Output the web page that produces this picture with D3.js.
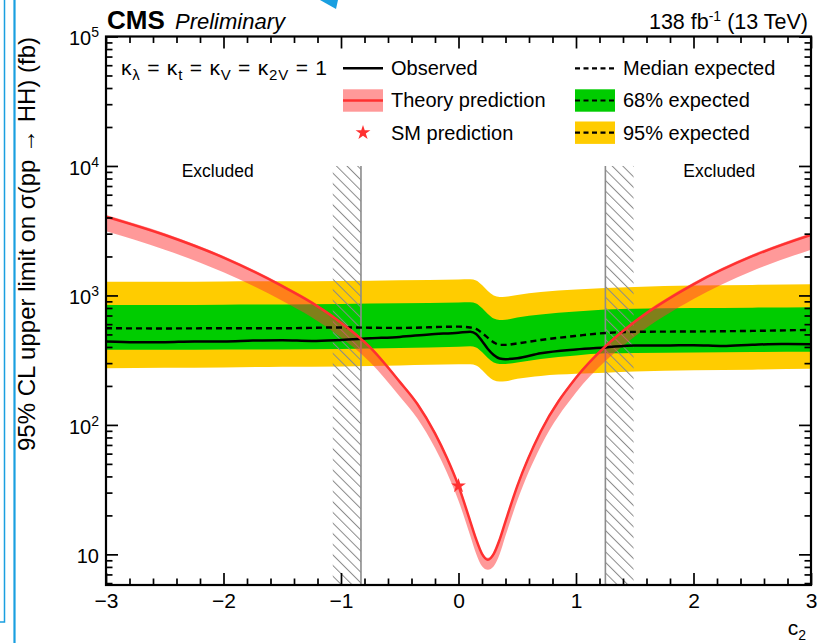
<!DOCTYPE html>
<html>
<head>
<meta charset="utf-8">
<script src="https://cdn.jsdelivr.net/npm/d3@7"></script>
<style>
  html, body { margin: 0; padding: 0; background: #fff; }
  svg { display: block; font-family: "Liberation Sans", Arial, Helvetica, sans-serif; }
</style>
</head>
<body>
<svg id="chart" width="823" height="643"></svg>
<script>
// ---- expected limits (fb) vs c2 ----
const expC2      = [-3, -2.5, -2, -1.5, -1, -0.5, 0, 0.1, 0.15, 0.2, 0.25, 0.3, 0.35, 0.4, 0.5, 0.7, 1.0, 1.25, 1.5, 2, 2.5, 3];
const exp95Up    = [1278, 1278, 1283, 1288, 1294, 1311, 1329, 1334, 1306, 1205, 1083, 1000, 974, 977, 1009, 1064, 1112, 1143, 1163, 1191, 1205, 1220];
const exp68Up    = [845, 845, 848, 852, 860, 871, 883, 886, 868, 801, 720, 664, 647, 649, 676, 713, 752, 780, 790, 798, 805, 811];
const expMedian  = [558, 556, 558, 558, 566, 561, 574, 566, 551, 513, 470, 434, 415, 415, 426, 453, 487, 513, 523, 527, 532, 542];
const exp68Down  = [380, 380, 382, 383, 386, 393, 402, 405, 397, 366, 329, 304, 296, 296, 304, 323, 344, 357, 360, 363, 366, 368];
const exp95Down  = [274, 276, 278, 281, 283, 288, 294, 294, 288, 266, 239, 221, 216, 217, 227, 239, 248, 253, 258, 264, 267, 271];

// ---- observed limit (fb) vs c2 ----
const obsC2      = [-3, -2.75, -2.5, -2.25, -2, -1.75, -1.5, -1.25, -1, -0.75, -0.5, -0.25, 0, 0.1, 0.15, 0.2, 0.25, 0.3, 0.35, 0.4, 0.5, 0.7, 1.0, 1.25, 1.5, 1.75, 2, 2.25, 2.5, 2.75, 3];
const observed   = [440, 434, 435, 441, 441, 448, 451, 445, 453, 466, 478, 500, 516, 525, 504, 445, 386, 347, 326, 322, 327, 358, 383, 397, 411, 410, 413, 407, 416, 422, 420];

// ---- theory prediction (fb) vs c2, with its uncertainty band ----
const thC2       = [-3, -2.5, -2, -1.5, -1.25, -1, -0.75, -0.5, -0.35, -0.2, -0.1, 0, 0.1, 0.15, 0.2, 0.25, 0.3, 0.35, 0.4, 0.5, 0.7, 1, 1.25, 1.5, 2, 2.5, 3];
const theory     = [4060, 2930, 1960, 1180, 880, 615, 395, 215, 145, 86, 56, 33.8, 18, 13.1, 10.1, 9.1, 10.1, 13.0, 18, 33.7, 89, 231, 404, 626, 1219, 2009, 2931];
const theoryUp   = [4180, 3020, 2020, 1215, 906, 633, 407, 221, 149, 88.6, 57.7, 34.8, 18.5, 13.5, 10.4, 9.4, 10.4, 13.4, 18.5, 34.7, 91.7, 238, 416, 645, 1256, 2069, 3019];
const theoryDown = [3126, 2256, 1509, 909, 678, 474, 304, 166, 112, 66.2, 43.1, 26.0, 13.9, 10.1, 8.1, 7.6, 8.1, 10.0, 13.9, 25.9, 68.5, 178, 311, 482, 939, 1547, 2257];

// SM point (c2 = 0)
const smC2 = 0, smXsec = 33.8;

// excluded c2 regions (hatch extent; inner edge carries the boundary line)
const exclLow  = [-1.07, -0.83];
const exclHigh = [1.25, 1.49];

// axis ticks
const xTicks = [-3, -2, -1, 0, 1, 2, 3];
const xMinorTicks = [-2.8, -2.6, -2.4, -2.2, -1.8, -1.6, -1.4, -1.2, -0.8, -0.6, -0.4, -0.2,
                     0.2, 0.4, 0.6, 0.8, 1.2, 1.4, 1.6, 1.8, 2.2, 2.4, 2.6, 2.8];
const yTicks = [10, 100, 1000, 10000, 100000];
const yMinorTicks = [6, 7, 8, 9,
  20, 30, 40, 50, 60, 70, 80, 90,
  200, 300, 400, 500, 600, 700, 800, 900,
  2000, 3000, 4000, 5000, 6000, 7000, 8000, 9000,
  20000, 30000, 40000, 50000, 60000, 70000, 80000, 90000];

// ---- layout ----
const P = { left: 106, right: 811, top: 36.5, bottom: 585 };
const Y_MIN = 5.8, Y_MAX = 1e5;
const COL = {
  yellow: "#ffcc00", green: "#00cc00", red: "#ff3030",
  band: "rgba(255,51,51,0.5)", hatch: "#8a8a8a", blue: "#1a9fe0"
};

const svg = d3.select("#chart");
const x = d3.scaleLinear().domain([-3, 3]).range([P.left, P.right]);
const y = d3.scaleLog().domain([Y_MIN, Y_MAX]).range([P.bottom, P.top]);

const defs = svg.append("defs");
defs.append("clipPath").attr("id", "plotClip")
  .append("rect").attr("x", P.left).attr("y", P.top)
  .attr("width", P.right - P.left).attr("height", P.bottom - P.top);
const pat = defs.append("pattern").attr("id", "hatch")
  .attr("patternUnits", "userSpaceOnUse").attr("width", 7.5).attr("height", 7.5)
  .attr("patternTransform", "rotate(-45)");
pat.append("line").attr("x1", 0.5).attr("y1", 0).attr("x2", 0.5).attr("y2", 7.5)
  .attr("stroke", COL.hatch).attr("stroke-width", 1);

// window decorations on the left edge and top
const deco = svg.append("g");
deco.append("path").attr("d", "M4.5,0 V622 H0").attr("fill", "none")
  .attr("stroke", COL.blue).attr("stroke-width", 1.5);
deco.append("line").attr("x1", 14.5).attr("x2", 14.5).attr("y1", 0).attr("y2", 643)
  .attr("stroke", COL.blue).attr("stroke-width", 2.2);
deco.append("polygon").attr("points", "320,0 338,0 336,9")
  .attr("fill", COL.blue);

const plot = svg.append("g").attr("clip-path", "url(#plotClip)");

const expRows = expC2.map((c, i) => ({ c, u95: exp95Up[i], u68: exp68Up[i], med: expMedian[i], d68: exp68Down[i], d95: exp95Down[i] }));
const obsRows = obsC2.map((c, i) => ({ c, v: observed[i] }));
const thRows  = thC2.map((c, i) => ({ c, v: theory[i], up: theoryUp[i], dn: theoryDown[i] }));

const curve = d3.curveMonotoneX;

// expected bands
plot.append("path").datum(expRows).attr("fill", COL.yellow)
  .attr("d", d3.area().curve(curve).x(d => x(d.c)).y0(d => y(d.d95)).y1(d => y(d.u95)));
plot.append("path").datum(expRows).attr("fill", COL.green)
  .attr("d", d3.area().curve(curve).x(d => x(d.c)).y0(d => y(d.d68)).y1(d => y(d.u68)));

// excluded regions
[[exclLow, exclLow[1]], [exclHigh, exclHigh[0]]].forEach(([r, edge]) => {
  plot.append("rect").attr("x", x(r[0])).attr("width", x(r[1]) - x(r[0]))
    .attr("y", y(1e4)).attr("height", y(Y_MIN) - y(1e4))
    .attr("fill", "url(#hatch)");
  plot.append("line").attr("x1", x(edge)).attr("x2", x(edge))
    .attr("y1", y(1e4)).attr("y2", y(Y_MIN))
    .attr("stroke", "#8c8c8c").attr("stroke-width", 1.6);
});

// theory band
plot.append("path").datum(thRows).attr("fill", COL.band)
  .attr("d", d3.area().curve(curve).x(d => x(d.c)).y0(d => y(d.dn)).y1(d => y(d.up)));

// median expected and observed
plot.append("path").datum(expRows).attr("fill", "none").attr("stroke", "#000")
  .attr("stroke-width", 2.4).attr("stroke-dasharray", "6,4")
  .attr("d", d3.line().curve(curve).x(d => x(d.c)).y(d => y(d.med)));
plot.append("path").datum(obsRows).attr("fill", "none").attr("stroke", "#000")
  .attr("stroke-width", 2.5)
  .attr("d", d3.line().curve(curve).x(d => x(d.c)).y(d => y(d.v)));

// theory line
plot.append("path").datum(thRows).attr("fill", "none").attr("stroke", COL.red)
  .attr("stroke-width", 2.5)
  .attr("d", d3.line().curve(curve).x(d => x(d.c)).y(d => y(d.v)));

// SM star
const star = d3.symbol().type(d3.symbolStar).size(68);
plot.append("path").attr("d", star()).attr("fill", COL.red)
  .attr("transform", `translate(${x(smC2)},${y(smXsec)})`);

// "Excluded" labels
[[-2.05, "Excluded"], [2.22, "Excluded"]].forEach(([c, t]) => {
  svg.append("text").attr("x", x(c)).attr("y", 177).attr("text-anchor", "middle")
    .attr("font-size", 17.5).text(t);
});

// ---- axes ----
function styleAxis(g) {
  g.attr("font-family", null).attr("font-size", 20);
  g.select(".domain").remove();
  g.selectAll(".tick line").attr("stroke", "#000").attr("stroke-width", 1.7);
}
const MAJ = 12, MIN = 6.5;

const gxB = svg.append("g").attr("transform", `translate(0,${P.bottom})`)
  .call(d3.axisBottom(x).tickValues(xTicks).tickSize(-MAJ).tickSizeOuter(0).tickPadding(8)
    .tickFormat(d => d < 0 ? "\u2212" + Math.abs(d) : String(d)));
styleAxis(gxB);
gxB.selectAll(".tick text").attr("font-size", 21);
styleAxis(svg.append("g").attr("transform", `translate(0,${P.bottom})`)
  .call(d3.axisBottom(x).tickValues(xMinorTicks).tickSize(-MIN).tickSizeOuter(0).tickFormat("")));
styleAxis(svg.append("g").attr("transform", `translate(0,${P.top})`)
  .call(d3.axisTop(x).tickValues(xTicks).tickSize(-MAJ).tickSizeOuter(0).tickFormat("")));
styleAxis(svg.append("g").attr("transform", `translate(0,${P.top})`)
  .call(d3.axisTop(x).tickValues(xMinorTicks).tickSize(-MIN).tickSizeOuter(0).tickFormat("")));

const gyL = svg.append("g").attr("transform", `translate(${P.left},0)`)
  .call(d3.axisLeft(y).tickValues(yTicks).tickSize(-MAJ).tickSizeOuter(0).tickPadding(7).tickFormat(() => ""));
styleAxis(gyL);
gyL.selectAll(".tick text").each(function (d) {
  const t = d3.select(this).attr("dy", "0.42em");
  const e = Math.round(Math.log10(d));
  t.append("tspan").text("10");
  if (e > 1) t.append("tspan").attr("font-size", 14).attr("dy", -8).text(String(e));
});
styleAxis(svg.append("g").attr("transform", `translate(${P.left},0)`)
  .call(d3.axisLeft(y).tickValues(yMinorTicks).tickSize(-MIN).tickSizeOuter(0).tickFormat(() => "")));
styleAxis(svg.append("g").attr("transform", `translate(${P.right},0)`)
  .call(d3.axisRight(y).tickValues(yTicks).tickSize(-MAJ).tickSizeOuter(0).tickFormat(() => "")));
styleAxis(svg.append("g").attr("transform", `translate(${P.right},0)`)
  .call(d3.axisRight(y).tickValues(yMinorTicks).tickSize(-MIN).tickSizeOuter(0).tickFormat(() => "")));

// frame
svg.append("rect").attr("x", P.left).attr("y", P.top)
  .attr("width", P.right - P.left).attr("height", P.bottom - P.top)
  .attr("fill", "none").attr("stroke", "#000").attr("stroke-width", 2.2);

// axis titles
const xt = svg.append("text").attr("x", 806).attr("y", 635).attr("text-anchor", "end").attr("font-size", 21);
xt.append("tspan").text("c");
xt.append("tspan").attr("font-size", 14).attr("dy", 5).text("2");

svg.append("text").attr("transform", "translate(35,37) rotate(-90)")
  .attr("text-anchor", "end").attr("font-size", 24)
  .text("95% CL upper limit on \u03c3(pp \u2192 HH) (fb)");

// header
svg.append("text").attr("x", 107).attr("y", 28.5).attr("font-size", 26).attr("font-weight", "bold").text("CMS");
svg.append("text").attr("x", 175).attr("y", 28.5).attr("font-size", 22).attr("font-style", "italic").text("Preliminary");
const lumi = svg.append("text").attr("x", 808).attr("y", 28.5).attr("text-anchor", "end").attr("font-size", 21.5);
lumi.append("tspan").text("138 fb");
lumi.append("tspan").attr("font-size", 14).attr("dy", -8).text("-1");
lumi.append("tspan").attr("dy", 8).text(" (13 TeV)");

// ---- legend ----
const LF = 20;
const kap = svg.append("text").attr("x", 121).attr("y", 75).attr("font-size", 21)
  .attr("textLength", 206).attr("lengthAdjust", "spacing");
[["\u03ba", "\u03bb", " = "], ["\u03ba", "t", " = "], ["\u03ba", "V", " = "], ["\u03ba", "2V", " = 1"]]
  .forEach(([k, s, rest]) => {
    kap.append("tspan").text(k);
    kap.append("tspan").attr("font-size", 15).attr("dy", 5).text(s);
    kap.append("tspan").attr("dy", -5).text(rest);
  });

const lg = svg.append("g");
const c1 = 343, c2x = 575, sw = 40;
const rows = [68.3, 100.5, 132.7];
// column 1
lg.append("line").attr("x1", c1).attr("x2", c1 + sw).attr("y1", rows[0]).attr("y2", rows[0])
  .attr("stroke", "#000").attr("stroke-width", 2.5);
lg.append("rect").attr("x", c1).attr("y", rows[1] - 11.2).attr("width", sw).attr("height", 22.4)
  .attr("fill", COL.band);
lg.append("line").attr("x1", c1).attr("x2", c1 + sw).attr("y1", rows[1]).attr("y2", rows[1])
  .attr("stroke", COL.red).attr("stroke-width", 2.5);
lg.append("path").attr("d", star()).attr("fill", COL.red)
  .attr("transform", `translate(${c1 + sw / 2},${rows[2]})`);
// column 2
lg.append("line").attr("x1", c2x).attr("x2", c2x + sw).attr("y1", rows[0]).attr("y2", rows[0])
  .attr("stroke", "#000").attr("stroke-width", 2.2).attr("stroke-dasharray", "5,3.5");
lg.append("rect").attr("x", c2x).attr("y", rows[1] - 11.2).attr("width", sw).attr("height", 22.4).attr("fill", COL.green);
lg.append("line").attr("x1", c2x).attr("x2", c2x + sw).attr("y1", rows[1]).attr("y2", rows[1])
  .attr("stroke", "#000").attr("stroke-width", 2.2).attr("stroke-dasharray", "5,3.5");
lg.append("rect").attr("x", c2x).attr("y", rows[2] - 11.2).attr("width", sw).attr("height", 22.4).attr("fill", COL.yellow);
lg.append("line").attr("x1", c2x).attr("x2", c2x + sw).attr("y1", rows[2]).attr("y2", rows[2])
  .attr("stroke", "#000").attr("stroke-width", 2.2).attr("stroke-dasharray", "5,3.5");

const labels1 = ["Observed", "Theory prediction", "SM prediction"];
const labels2 = ["Median expected", "68% expected", "95% expected"];
labels1.forEach((t, i) => lg.append("text").attr("x", 391).attr("y", rows[i] + 6.8).attr("font-size", LF).text(t));
labels2.forEach((t, i) => lg.append("text").attr("x", 623).attr("y", rows[i] + 6.8).attr("font-size", LF).text(t));
</script>
</body>
</html>
